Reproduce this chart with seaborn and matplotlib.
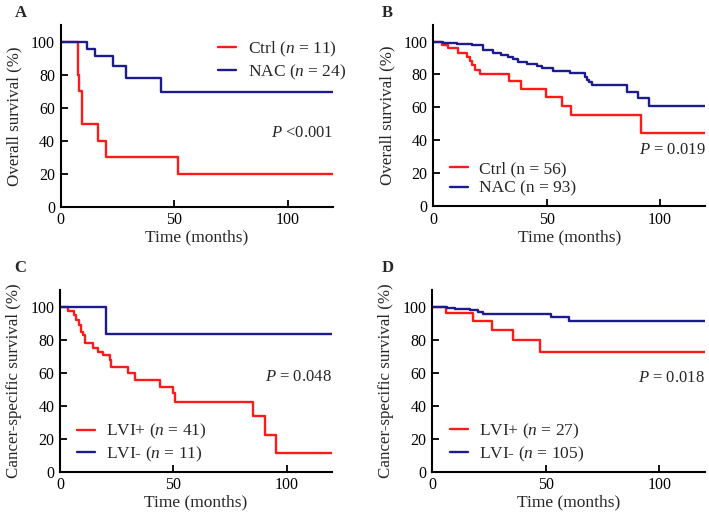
import matplotlib
matplotlib.use("Agg")
import numpy as np
import pandas as pd
import seaborn as sns
from matplotlib import pyplot as plt

# Kaplan-Meier steps (time in months, survival in %)
# each curve starts at (0, 100) and runs to the last follow-up at 120 months
a_ctrl_t = [0, 7.5, 7.8, 8.1, 9.6, 16.4, 20.1, 51.5, 120]
a_ctrl_s = [100, 90, 80, 70, 50, 40, 30, 20, 20]
a_nac_t = [0, 11.5, 15.2, 22.9, 29.0, 44.4, 120]
a_nac_s = [100, 95.6, 91.0, 85.5, 78.2, 69.7, 69.7]

b_ctrl_t = [0, 3.8, 6.4, 10.8, 14.7, 16.2, 17.2, 18.6, 20.5, 33.4, 38.7,
            49.5, 56.9, 60.6, 91.6, 120]
b_ctrl_s = [100, 98.0, 95.9, 93.0, 90.6, 88.2, 85.8, 83.0, 80.4, 75.9, 71.4,
            66.5, 60.9, 55.3, 44.2, 44.2]
b_nac_t = [0, 4.5, 10.3, 16.9, 22.0, 26.5, 30.1, 33.0, 35.3, 37.5, 41.2,
           45.6, 48.0, 52.9, 60.3, 66.9, 67.6, 68.8, 69.8, 85.3, 90.4, 95.2, 120]
b_nac_s = [100, 99.2, 98.7, 97.8, 94.6, 92.9, 91.8, 90.5, 89.3, 87.8, 86.6,
           85.2, 84.2, 82.2, 80.8, 78.7, 76.7, 75.4, 73.6, 69.6, 65.6, 60.9, 60.9]

c_pos_t = [0, 3.5, 6.2, 7.2, 8.2, 9.4, 10.2, 10.9, 14.6, 16.8, 19.0, 21.9,
           22.7, 30.0, 33.0, 43.9, 49.6, 50.8, 85.1, 90.5, 95.4, 120]
c_pos_s = [100, 97.6, 95.1, 91.9, 88.9, 84.8, 82.9, 77.8, 74.8, 72.7, 70.7,
           67.7, 63.6, 59.6, 55.6, 51.5, 47.5, 42.4, 33.8, 22.3, 11.2, 11.2]
c_neg_t = [0, 20.4, 120]
c_neg_s = [100, 83.3, 83.3]

d_pos_t = [0, 6.0, 18.0, 26.3, 35.6, 47.3, 120]
d_pos_s = [100, 95.8, 91.0, 85.6, 79.8, 72.3, 72.3]
d_neg_t = [0, 6.3, 10.0, 16.6, 20.2, 22.4, 52.4, 60.2, 120]
d_neg_s = [100, 99.3, 98.7, 98.0, 96.5, 95.3, 93.5, 91.3, 91.3]

time_ticks = [0, 50, 100]
surv_ticks = [0, 20, 40, 60, 80, 100]

RED = "#ff1a1a"
BLUE = "#1c1c8e"

sns.set_theme(style="ticks")
plt.rcParams["font.family"] = ["Liberation Serif", "DejaVu Serif"]
plt.rcParams["mathtext.fontset"] = "custom"
plt.rcParams["mathtext.rm"] = "Liberation Serif"
plt.rcParams["mathtext.it"] = "Liberation Serif:italic"


def km_frame(curves):
    rows = []
    for label, t, s in curves:
        rows.append(pd.DataFrame({"time": t, "surv": s, "group": label}))
    return pd.concat(rows, ignore_index=True)


def km_panel(ax, curves, ylabel, ptext, py, leg_loc, leg_anchor):
    df = km_frame(curves)
    labels = [c[0] for c in curves]
    sns.lineplot(data=df, x="time", y="surv", hue="group", hue_order=labels,
                 palette=[RED, BLUE], drawstyle="steps-post", estimator=None,
                 sort=False, linewidth=1.7, ax=ax)

    ax.set_xlim(0, 120)
    ax.set_ylim(0, 110)
    ax.set_xticks(time_ticks)
    ax.set_yticks(surv_ticks)
    ax.tick_params(direction="in", length=5, width=1.3, labelsize=11.5,
                   colors="black", pad=4)
    for side in ["left", "bottom"]:
        ax.spines[side].set_linewidth(1.5)
        ax.spines[side].set_color("black")
    sns.despine(ax=ax)
    ax.set_xlabel("Time (months)", fontsize=12.5, labelpad=1)
    ax.set_ylabel(ylabel, fontsize=12.2, labelpad=6)

    ax.text(120, py, ptext, ha="right", va="center", fontsize=12)

    ax.legend(frameon=False, loc=leg_loc, bbox_to_anchor=leg_anchor,
              borderaxespad=0, borderpad=0, handlelength=1.05,
              handletextpad=0.65, labelspacing=0.2, fontsize=12.5)


fig = plt.figure(figsize=(7.09, 5.22), dpi=100)
ax_a = fig.add_axes([0.0856, 0.604, 0.384, 0.348])
ax_b = fig.add_axes([0.611, 0.605, 0.384, 0.347])
ax_c = fig.add_axes([0.0846, 0.0964, 0.384, 0.348])
ax_d = fig.add_axes([0.6097, 0.0964, 0.384, 0.348])

km_panel(ax_a, [("Ctrl ($n$ = 11)", a_ctrl_t, a_ctrl_s),
                ("NAC ($n$ = 24)", a_nac_t, a_nac_s)],
         "Overall survival (%)", "$P$ <0.001", 44.5,
         "upper left", (0.578, 0.918))
km_panel(ax_b, [("Ctrl (n = 56)", b_ctrl_t, b_ctrl_s),
                ("NAC (n = 93)", b_nac_t, b_nac_s)],
         "Overall survival (%)", "$P$ = 0.019", 34,
         "lower left", (0.06, 0.052))
km_panel(ax_c, [("LVI+ ($n$ = 41)", c_pos_t, c_pos_s),
                ("LVI- ($n$ = 11)", c_neg_t, c_neg_s)],
         "Cancer-specific survival (%)", "$P$ = 0.048", 57.6,
         "lower left", (0.062, 0.042))
km_panel(ax_d, [("LVI+ ($n$ = 27)", d_pos_t, d_pos_s),
                ("LVI- ($n$ = 105)", d_neg_t, d_neg_s)],
         "Cancer-specific survival (%)", "$P$ = 0.018", 56.6,
         "lower left", (0.065, 0.045))

for letter, x, y in [("A", 0.03, 0.975), ("B", 0.546, 0.975),
                     ("C", 0.028, 0.487), ("D", 0.547, 0.487)]:
    fig.text(x, y, letter, fontsize=12, fontweight="bold", ha="center",
             va="center")

fig.savefig("out.png", dpi=100)
